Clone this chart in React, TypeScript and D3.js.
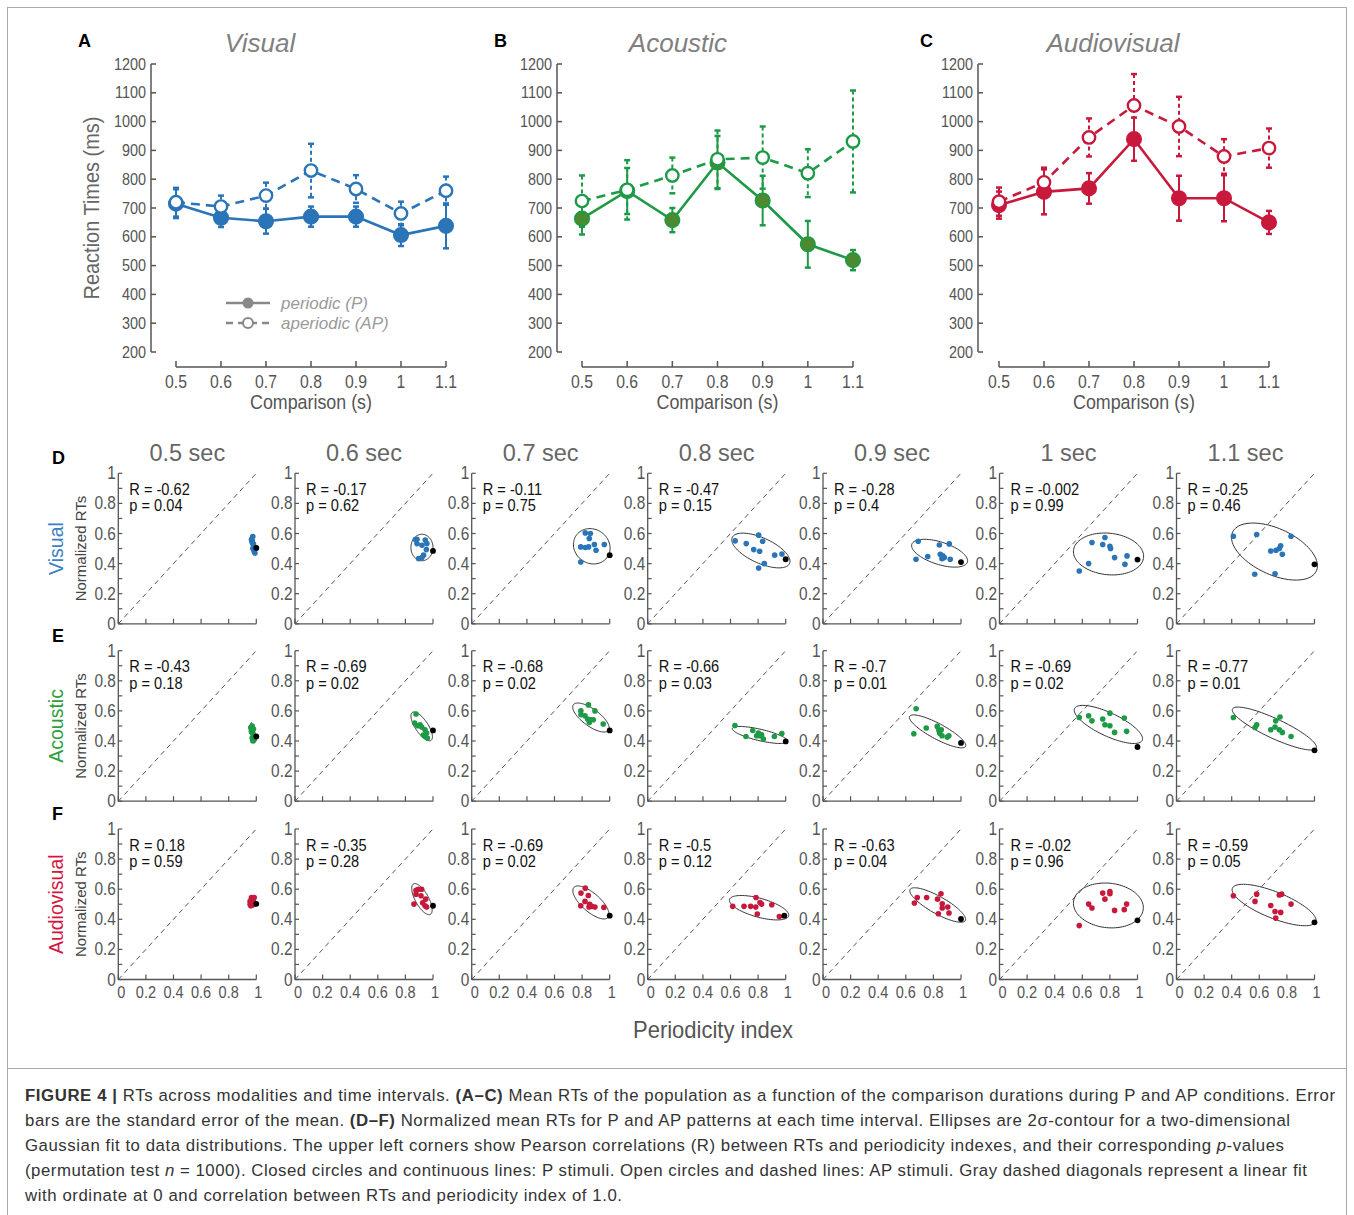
import React from 'react';
import * as d3 from 'd3';

// ---------- Panels A–C data ----------
const comparisons = [0.5, 0.6, 0.7, 0.8, 0.9, 1.0, 1.1];
const rtTicks = [200, 300, 400, 500, 600, 700, 800, 900, 1000, 1100, 1200];

const visualPeriodic = [715, 666, 654, 670, 670, 606, 638];
const visualPeriodicErr = [50, 32, 43, 35, 35, 38, 78];
const visualAperiodic = [720, 705, 743, 830, 766, 681, 760];
const visualAperiodicErr = [50, 38, 45, 93, 48, 41, 49];

const acousticPeriodic = [663, 759, 658, 858, 726, 574, 519];
const acousticPeriodicErr = [55, 80, 42, 92, 86, 81, 35];
const acousticAperiodic = [724, 763, 813, 869, 875, 821, 931];
const acousticAperiodicErr = [89, 103, 62, 100, 108, 83, 177];

const audiovisualPeriodic = [710, 756, 768, 939, 734, 734, 650];
const audiovisualPeriodicErr = [47, 78, 53, 75, 78, 80, 40];
const audiovisualAperiodic = [722, 789, 945, 1056, 983, 879, 908];
const audiovisualAperiodicErr = [49, 51, 66, 109, 103, 60, 68];

// ---------- Panels D–F data ----------
const intervalLabels = ['0.5 sec', '0.6 sec', '0.7 sec', '0.8 sec', '0.9 sec', '1 sec', '1.1 sec'];
const unitTicks = [0, 0.2, 0.4, 0.6, 0.8, 1];
const unitMinorTicks = [0, 0.1, 0.2, 0.3, 0.4, 0.5, 0.6, 0.7, 0.8, 0.9, 1];

const visualR = ['-0.62', '-0.17', '-0.11', '-0.47', '-0.28', '-0.002', '-0.25'];
const visualP = ['0.04', '0.62', '0.75', '0.15', '0.4', '0.99', '0.46'];
const acousticR = ['-0.43', '-0.69', '-0.68', '-0.66', '-0.7', '-0.69', '-0.77'];
const acousticP = ['0.18', '0.02', '0.02', '0.03', '0.01', '0.02', '0.01'];
const audiovisualR = ['0.18', '-0.35', '-0.69', '-0.5', '-0.63', '-0.02', '-0.59'];
const audiovisualP = ['0.59', '0.28', '0.02', '0.12', '0.04', '0.96', '0.05'];

const visualPoints = [
  [[0.965, 0.56], [0.975, 0.58], [0.97, 0.54], [0.98, 0.52], [0.975, 0.5], [0.985, 0.48], [0.99, 0.47], [0.97, 0.55], [0.98, 0.53], [0.985, 0.49]],
  [[0.872, 0.56], [0.884, 0.533], [0.92, 0.522], [0.944, 0.556], [0.956, 0.533], [0.952, 0.493], [0.932, 0.456], [0.896, 0.433], [0.92, 0.44], [0.884, 0.562]],
  [[0.79, 0.411], [0.79, 0.511], [0.823, 0.507], [0.847, 0.511], [0.823, 0.604], [0.86, 0.6], [0.852, 0.567], [0.889, 0.527], [0.901, 0.489], [0.961, 0.527]],
  [[0.634, 0.551], [0.714, 0.533], [0.768, 0.493], [0.804, 0.589], [0.811, 0.482], [0.833, 0.549], [0.804, 0.371], [0.845, 0.4], [0.92, 0.456], [0.973, 0.464]],
  [[0.69, 0.549], [0.674, 0.429], [0.759, 0.447], [0.843, 0.524], [0.85, 0.462], [0.868, 0.451], [0.879, 0.44], [0.915, 0.531], [0.922, 0.429], [0.862, 0.433]],
  [[0.578, 0.351], [0.646, 0.4], [0.67, 0.54], [0.748, 0.527], [0.764, 0.573], [0.8, 0.515], [0.805, 0.5], [0.834, 0.44], [0.909, 0.395], [0.924, 0.451]],
  [[0.412, 0.582], [0.581, 0.593], [0.567, 0.329], [0.714, 0.333], [0.683, 0.484], [0.721, 0.489], [0.745, 0.5], [0.755, 0.518], [0.767, 0.462], [0.83, 0.582]],
];
const visualBlack = [[1, 0.504], [1, 0.484], [1, 0.456], [1, 0.429], [1, 0.41], [1, 0.427], [1, 0.395]];
// ellipse: [cx, cy, semi-major, semi-minor, angle (deg, data space)]
const visualEllipses = [
  [0.978, 0.525, 0.068, 0.014, -78], [0.92, 0.507, 0.088, 0.08, 90], [0.87, 0.515, 0.135, 0.115, -20],
  [0.82, 0.487, 0.225, 0.085, -22], [0.845, 0.469, 0.21, 0.075, -16], [0.79, 0.464, 0.255, 0.138, -5],
  [0.71, 0.48, 0.33, 0.155, -22],
];

const acousticPoints = [
  [[0.96, 0.49], [0.965, 0.47], [0.97, 0.5], [0.975, 0.45], [0.98, 0.43], [0.97, 0.42], [0.985, 0.41], [0.975, 0.4], [0.965, 0.46], [0.98, 0.48]],
  [[0.877, 0.579], [0.867, 0.519], [0.889, 0.501], [0.906, 0.508], [0.918, 0.493], [0.942, 0.475], [0.954, 0.453], [0.942, 0.43], [0.959, 0.42], [0.93, 0.44]],
  [[0.791, 0.6], [0.846, 0.64], [0.792, 0.574], [0.821, 0.567], [0.84, 0.546], [0.852, 0.523], [0.862, 0.541], [0.881, 0.541], [0.893, 0.6], [0.953, 0.513]],
  [[0.632, 0.503], [0.712, 0.43], [0.761, 0.47], [0.802, 0.453], [0.814, 0.435], [0.826, 0.442], [0.838, 0.413], [0.918, 0.43], [0.972, 0.45], [0.79, 0.435]],
  [[0.675, 0.614], [0.658, 0.448], [0.748, 0.486], [0.828, 0.497], [0.84, 0.47], [0.857, 0.475], [0.862, 0.435], [0.9, 0.426], [0.912, 0.435], [0.846, 0.452]],
  [[0.578, 0.556], [0.646, 0.567], [0.67, 0.534], [0.748, 0.546], [0.764, 0.508], [0.8, 0.585], [0.8, 0.501], [0.834, 0.457], [0.904, 0.552], [0.921, 0.464]],
  [[0.412, 0.556], [0.569, 0.49], [0.581, 0.508], [0.683, 0.475], [0.714, 0.493], [0.719, 0.534], [0.75, 0.559], [0.745, 0.475], [0.767, 0.457], [0.83, 0.43]],
];
const acousticBlack = [[1, 0.43], [1, 0.47], [1, 0.47], [1, 0.397], [1, 0.387], [1, 0.36], [1, 0.338]];
const acousticEllipses = [
  [0.975, 0.455, 0.068, 0.014, -80], [0.918, 0.497, 0.115, 0.045, -53], [0.864, 0.556, 0.153, 0.058, -33],
  [0.814, 0.44, 0.205, 0.038, -12], [0.83, 0.464, 0.226, 0.052, -26], [0.789, 0.51, 0.267, 0.078, -23],
  [0.709, 0.483, 0.33, 0.066, -23],
];

const audiovisualPoints = [
  [[0.955, 0.52], [0.965, 0.545], [0.975, 0.54], [0.985, 0.545], [0.96, 0.49], [0.97, 0.495], [0.98, 0.52], [0.97, 0.51], [0.955, 0.5], [0.985, 0.5]],
  [[0.862, 0.501], [0.877, 0.592], [0.894, 0.6], [0.918, 0.6], [0.877, 0.567], [0.913, 0.556], [0.947, 0.534], [0.942, 0.49], [0.954, 0.481], [0.925, 0.51]],
  [[0.792, 0.574], [0.823, 0.607], [0.845, 0.558], [0.821, 0.519], [0.79, 0.49], [0.85, 0.481], [0.87, 0.486], [0.893, 0.481], [0.958, 0.479], [0.855, 0.5]],
  [[0.616, 0.486], [0.698, 0.486], [0.746, 0.486], [0.783, 0.481], [0.785, 0.545], [0.794, 0.435], [0.814, 0.512], [0.826, 0.501], [0.899, 0.497], [0.954, 0.419]],
  [[0.662, 0.508], [0.683, 0.545], [0.751, 0.545], [0.83, 0.534], [0.855, 0.57], [0.864, 0.503], [0.864, 0.475], [0.904, 0.481], [0.913, 0.442], [0.836, 0.437]],
  [[0.578, 0.358], [0.646, 0.501], [0.67, 0.475], [0.748, 0.574], [0.764, 0.534], [0.8, 0.585], [0.8, 0.57], [0.834, 0.459], [0.904, 0.464], [0.921, 0.501]],
  [[0.412, 0.556], [0.569, 0.519], [0.581, 0.567], [0.683, 0.492], [0.714, 0.452], [0.719, 0.408], [0.745, 0.561], [0.762, 0.567], [0.755, 0.446], [0.83, 0.501]],
];
const audiovisualBlack = [[1, 0.503], [1, 0.49], [1, 0.424], [0.99, 0.424], [1, 0.402], [1, 0.393], [1, 0.38]];
const audiovisualEllipses = [
  [0.972, 0.515, 0.035, 0.02, -60], [0.92, 0.534, 0.118, 0.047, -58], [0.864, 0.512, 0.159, 0.063, -38],
  [0.807, 0.477, 0.221, 0.063, -14], [0.831, 0.495, 0.225, 0.058, -27], [0.789, 0.492, 0.254, 0.148, -5],
  [0.707, 0.495, 0.322, 0.088, -20],
];

// ---------- styling / layout ----------
const SANS = "'Liberation Sans', Arial, sans-serif";
const AXIS = '#555';
const BLUE = '#2a74b8';
const GREEN = '#1d9a46';
const GREEN_FILL = '#4b8a2e';
const RED = '#c8193c';

const modalities = [
  { name: 'Visual', color: BLUE, fill: BLUE, rowColor: '#3d7fc6',
    p: visualPeriodic, pe: visualPeriodicErr, ap: visualAperiodic, ape: visualAperiodicErr,
    pts: visualPoints, black: visualBlack, ell: visualEllipses, R: visualR, pv: visualP },
  { name: 'Acoustic', color: GREEN, fill: GREEN_FILL, rowColor: '#2f9e3c',
    p: acousticPeriodic, pe: acousticPeriodicErr, ap: acousticAperiodic, ape: acousticAperiodicErr,
    pts: acousticPoints, black: acousticBlack, ell: acousticEllipses, R: acousticR, pv: acousticP },
  { name: 'Audiovisual', color: RED, fill: RED, rowColor: '#d5173f',
    p: audiovisualPeriodic, pe: audiovisualPeriodicErr, ap: audiovisualAperiodic, ape: audiovisualAperiodicErr,
    pts: audiovisualPoints, black: audiovisualBlack, ell: audiovisualEllipses, R: audiovisualR, pv: audiovisualP },
];

const lineLayouts = [
  { letter: 'A', yAxisX: 151, x0: 176, x1: 446, letterX: 78, titleX: 260 },
  { letter: 'B', yAxisX: 557, x0: 582, x1: 853, letterX: 494, titleX: 678 },
  { letter: 'C', yAxisX: 978, x0: 999, x1: 1269, letterX: 920, titleX: 1113 },
];

const colX = [118.3, 295, 471.7, 647.7, 823, 999.5, 1176.5];
const rowTop = [473.3, 650.7, 829];
const PW = 138;
const PH = 150.5;

// text with horizontal compression (emulates a condensed face)
function NText({ x, y, sx = 0.86, anchor = 'start', size, fill, children, style = 'normal' }) {
  return (
    <text transform={`translate(${x},${y}) scale(${sx},1)`} textAnchor={anchor} fontFamily={SANS} fontSize={size} fontStyle={style} fill={fill}>
      {children}
    </text>
  );
}

function ErrorBars({ x, y, vals, errs, color, dashed }) {
  return (
    <g stroke={color} strokeWidth={2}>
      {vals.map((v, i) => {
        const cx = x(comparisons[i]);
        const yt = y(v + errs[i]);
        const yb = y(v - errs[i]);
        return (
          <g key={i}>
            <line x1={cx} x2={cx} y1={yt} y2={yb} strokeDasharray={dashed ? '4,3' : undefined} />
            <line x1={cx - 3} x2={cx + 3} y1={yt} y2={yt} strokeWidth={2.5} />
            <line x1={cx - 3} x2={cx + 3} y1={yb} y2={yb} strokeWidth={2.5} />
          </g>
        );
      })}
    </g>
  );
}

function LinePanel({ cfg, mod, showYLabel, showLegend }) {
  const y = d3.scaleLinear().domain([200, 1200]).range([352, 64]);
  const x = d3.scaleLinear().domain([0.5, 1.1]).range([cfg.x0, cfg.x1]);
  const line = d3.line<number>().x((_, i) => x(comparisons[i])).y((d) => y(d));
  const xAxisY = 367;
  return (
    <g>
      <text x={cfg.letterX} y={47} fontFamily={SANS} fontWeight="bold" fontSize={18} fill="#000">{cfg.letter}</text>
      <text x={cfg.titleX} y={52} textAnchor="middle" fontFamily={SANS} fontStyle="italic" fontSize={26} fill="#808080">{mod.name}</text>
      {/* y axis */}
      <line x1={cfg.yAxisX} x2={cfg.yAxisX} y1={y(200)} y2={y(1200)} stroke={AXIS} strokeWidth={1.5} />
      {rtTicks.map((t) => (
        <g key={t}>
          <line x1={cfg.yAxisX} x2={cfg.yAxisX + 5} y1={y(t)} y2={y(t)} stroke={AXIS} strokeWidth={1.5} />
          <NText x={cfg.yAxisX - 5} y={y(t) + 5.5} anchor="end" size={16} sx={0.9} fill={AXIS}>{t}</NText>
        </g>
      ))}
      {/* x axis */}
      <line x1={x(0.5)} x2={x(1.1)} y1={xAxisY} y2={xAxisY} stroke={AXIS} strokeWidth={1.5} />
      {comparisons.map((c) => (
        <g key={c}>
          <line x1={x(c)} x2={x(c)} y1={xAxisY} y2={xAxisY - 6} stroke={AXIS} strokeWidth={1.5} />
          <NText x={x(c)} y={xAxisY + 21} anchor="middle" size={17.5} sx={0.9} fill={AXIS}>{String(c)}</NText>
        </g>
      ))}
      <text x={(x(0.5) + x(1.1)) / 2} y={409} textAnchor="middle" fontFamily={SANS} fontSize={20.5} textLength={122} lengthAdjust="spacingAndGlyphs" fill={AXIS}>Comparison (s)</text>
      {showYLabel && (
        <text transform={`translate(99,208) rotate(-90)`} textAnchor="middle" fontFamily={SANS} fontSize={21.5} textLength={183} lengthAdjust="spacingAndGlyphs" fill="#666">Reaction Times (ms)</text>
      )}
      {/* periodic */}
      <path d={line(mod.p) || ''} fill="none" stroke={mod.color} strokeWidth={2.6} />
      <ErrorBars x={x} y={y} vals={mod.p} errs={mod.pe} color={mod.color} dashed={false} />
      {mod.p.map((v, i) => (
        <circle key={i} cx={x(comparisons[i])} cy={y(v)} r={7.3} fill={mod.fill} stroke={mod.color} strokeWidth={1.5} />
      ))}
      {/* aperiodic */}
      <path d={line(mod.ap) || ''} fill="none" stroke={mod.color} strokeWidth={2.6} strokeDasharray="9,6" />
      <ErrorBars x={x} y={y} vals={mod.ap} errs={mod.ape} color={mod.color} dashed={true} />
      {mod.ap.map((v, i) => (
        <circle key={i} cx={x(comparisons[i])} cy={y(v)} r={6.2} fill="#fff" stroke={mod.color} strokeWidth={2.4} />
      ))}
      {showLegend && (
        <g>
          <line x1={226} x2={270} y1={303} y2={303} stroke="#888" strokeWidth={2.4} />
          <circle cx={248} cy={303} r={5.5} fill="#888" />
          <text x={281} y={309} fontFamily={SANS} fontStyle="italic" fontSize={17} fill="#9a9a9a">periodic (P)</text>
          <line x1={226} x2={270} y1={323} y2={323} stroke="#888" strokeWidth={2.4} strokeDasharray="7,5" />
          <circle cx={248} cy={323} r={5} fill="#fff" stroke="#888" strokeWidth={2} />
          <text x={281} y={329} fontFamily={SANS} fontStyle="italic" fontSize={17} fill="#9a9a9a">aperiodic (AP)</text>
        </g>
      )}
    </g>
  );
}

function ScatterPanel({ ax, top, pts, black, ell, R, pv, color, showX }) {
  const xs = d3.scaleLinear().domain([0, 1]).range([ax, ax + PW]);
  const ys = d3.scaleLinear().domain([0, 1]).range([top + PH, top]);
  const [cx, cy, a, b, ang] = ell;
  const th = (ang * Math.PI) / 180;
  const ellPts = d3.range(0, 96).map((k) => {
    const t = (k / 96) * 2 * Math.PI;
    const dx = a * Math.cos(t) * Math.cos(th) - b * Math.sin(t) * Math.sin(th);
    const dy = a * Math.cos(t) * Math.sin(th) + b * Math.sin(t) * Math.cos(th);
    return [xs(cx + dx), ys(cy + dy)] as [number, number];
  });
  const ellPath = d3.line().curve(d3.curveLinearClosed)(ellPts) || '';
  return (
    <g>
      <line x1={xs(0)} y1={ys(0)} x2={xs(1)} y2={ys(1)} stroke="#555" strokeWidth={1} strokeDasharray="5,4" />
      <line x1={ax} x2={ax} y1={ys(0)} y2={ys(1)} stroke={AXIS} strokeWidth={1.3} />
      <line x1={xs(0)} x2={xs(1)} y1={ys(0)} y2={ys(0)} stroke={AXIS} strokeWidth={1.3} />
      {unitMinorTicks.map((t) => (
        <line key={'y' + t} x1={ax} x2={ax + 4} y1={ys(t)} y2={ys(t)} stroke={AXIS} strokeWidth={1.2} />
      ))}
      {unitTicks.map((t) => (
        <g key={'x' + t}>
          <line x1={xs(t)} x2={xs(t)} y1={ys(0)} y2={ys(0) - 5} stroke={AXIS} strokeWidth={1.2} />
          <NText x={ax - 2.5} y={ys(t) + 6} anchor="end" size={17.5} sx={0.88} fill={AXIS}>{String(t)}</NText>
          {showX && (
            <NText x={xs(t) + (t === 0 ? 3 : t === 1 ? 2 : 0)} y={ys(0) + 18} anchor="middle" size={16.5} sx={0.88} fill={AXIS}>{String(t)}</NText>
          )}
        </g>
      ))}
      <NText x={ax + 11} y={top + 21.5} size={17} sx={0.86} fill="#111">{`R = ${R}`}</NText>
      <NText x={ax + 11} y={top + 38} size={17} sx={0.86} fill="#111">{`p = ${pv}`}</NText>
      <path d={ellPath} fill="none" stroke="#333" strokeWidth={1} />
      {pts.map((d, i) => (
        <circle key={i} cx={xs(d[0])} cy={ys(d[1])} r={2.8} fill={color} />
      ))}
      <circle cx={xs(black[0])} cy={ys(black[1])} r={2.9} fill="#000" />
    </g>
  );
}

const captionLines = [
  { len: 1310, parts: [['b', 'FIGURE 4 | '], ['n', 'RTs across modalities and time intervals. '], ['b', '(A–C)'], ['n', ' Mean RTs of the population as a function of the comparison durations during P and AP conditions. Error']] },
  { len: 1265, parts: [['n', 'bars are the standard error of the mean. '], ['b', '(D–F)'], ['n', ' Normalized mean RTs for P and AP patterns at each time interval. Ellipses are 2σ-contour for a two-dimensional']] },
  { len: 1259, parts: [['n', 'Gaussian fit to data distributions. The upper left corners show Pearson correlations (R) between RTs and periodicity indexes, and their corresponding '], ['i', 'p'], ['n', '-values']] },
  { len: 1282, parts: [['n', '(permutation test '], ['i', 'n'], ['n', ' = 1000). Closed circles and continuous lines: P stimuli. Open circles and dashed lines: AP stimuli. Gray dashed diagonals represent a linear fit']] },
  { len: 597, parts: [['n', 'with ordinate at 0 and correlation between RTs and periodicity index of 1.0.']] },
];

export default function App() {
  return (
    <svg width={1354} height={1215} viewBox="0 0 1354 1215" style={{ position: 'absolute', left: 0, top: 0, background: '#fff' }}>
      <rect x={0} y={0} width={1354} height={1215} fill="#fff" />
      <rect x={7.5} y={7.5} width={1339} height={1230} fill="none" stroke="#aaa" strokeWidth={1} />
      <line x1={7.5} x2={1346.5} y1={1068.5} y2={1068.5} stroke="#aaa" strokeWidth={1} />

      {modalities.map((m, i) => (
        <LinePanel key={m.name} cfg={lineLayouts[i]} mod={m} showYLabel={i === 0} showLegend={i === 0} />
      ))}

      {intervalLabels.map((l, c) => (
        <text key={l} x={colX[c] + PW / 2} y={461} textAnchor="middle" fontFamily={SANS} fontSize={23.5} fill="#666">{l}</text>
      ))}

      {modalities.map((m, r) => (
        <g key={m.name}>
          <text x={52} y={rowTop[r] - 9} fontFamily={SANS} fontWeight="bold" fontSize={18} fill="#000">{['D', 'E', 'F'][r]}</text>
          <text transform={`translate(63,${rowTop[r] + PH / 2}) rotate(-90)`} textAnchor="middle" fontFamily={SANS} fontSize={19.5} fill={m.rowColor}>{m.name}</text>
          <text transform={`translate(86,${rowTop[r] + PH / 2}) rotate(-90)`} textAnchor="middle" fontFamily={SANS} fontSize={15} fill="#444">Normalized RTs</text>
          {colX.map((ax, c) => (
            <ScatterPanel key={c} ax={ax} top={rowTop[r]} pts={m.pts[c]} black={m.black[c]} ell={m.ell[c]}
              R={m.R[c]} pv={m.pv[c]} color={m.color} showX={r === 2} />
          ))}
        </g>
      ))}

      <text x={713} y={1038} textAnchor="middle" fontFamily={SANS} fontSize={24} textLength={160} lengthAdjust="spacingAndGlyphs" fill="#555">Periodicity index</text>

      {captionLines.map((ln, i) => (
        <text key={i} x={25} y={1101 + i * 25} fontFamily={SANS} fontSize={16.8} fill="#333" textLength={ln.len} lengthAdjust="spacing">
          {ln.parts.map((p, j) => (
            <tspan key={j} fontWeight={p[0] === 'b' ? 'bold' : 'normal'} fontStyle={p[0] === 'i' ? 'italic' : 'normal'}>{p[1]}</tspan>
          ))}
        </text>
      ))}
    </svg>
  );
}
